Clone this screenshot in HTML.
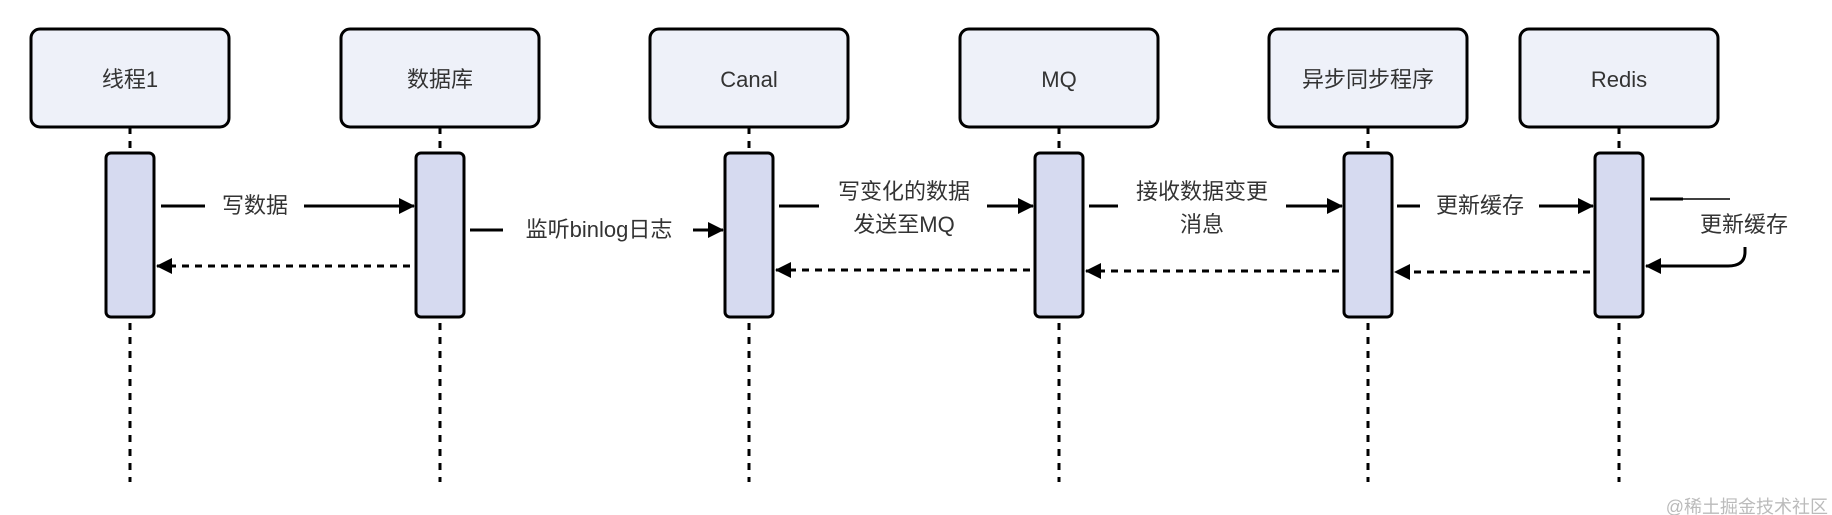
<!DOCTYPE html>
<html><head><meta charset="utf-8"><style>
html,body{margin:0;padding:0;background:#fff;}
svg{display:block;}
text{font-family:"Liberation Sans","Noto Sans CJK SC",sans-serif;font-size:22px;fill:#333;}
</style></head><body>
<svg width="1832" height="515" viewBox="0 0 1832 515" xmlns="http://www.w3.org/2000/svg">
<defs>
<marker id="a" markerWidth="16" markerHeight="16" refX="15" refY="8" orient="auto" markerUnits="userSpaceOnUse">
<path d="M0,0 L16,8 L0,16 Z" fill="#000"/></marker>
</defs>
<g stroke="#000" stroke-width="3" stroke-dasharray="7,7" fill="none">
<line x1="130" y1="127" x2="130" y2="482"/>
<line x1="440" y1="127" x2="440" y2="482"/>
<line x1="749" y1="127" x2="749" y2="482"/>
<line x1="1059" y1="127" x2="1059" y2="482"/>
<line x1="1368" y1="127" x2="1368" y2="482"/>
<line x1="1619" y1="127" x2="1619" y2="482"/>
</g>
<g stroke="#000" stroke-width="3" fill="#eef1f9">
<rect x="31" y="29" width="198" height="98" rx="9"/>
<rect x="341" y="29" width="198" height="98" rx="9"/>
<rect x="650" y="29" width="198" height="98" rx="9"/>
<rect x="960" y="29" width="198" height="98" rx="9"/>
<rect x="1269" y="29" width="198" height="98" rx="9"/>
<rect x="1520" y="29" width="198" height="98" rx="9"/>
</g>
<g text-anchor="middle">
<text x="130" y="87">线程1</text>
<text x="440" y="87">数据库</text>
<text x="749" y="87">Canal</text>
<text x="1059" y="87">MQ</text>
<text x="1368" y="87">异步同步程序</text>
<text x="1619" y="87">Redis</text>
</g>
<g stroke="#000" stroke-width="3" fill="#d6daf0">
<rect x="106" y="153" width="48" height="164" rx="5"/>
<rect x="416" y="153" width="48" height="164" rx="5"/>
<rect x="725" y="153" width="48" height="164" rx="5"/>
<rect x="1035" y="153" width="48" height="164" rx="5"/>
<rect x="1344" y="153" width="48" height="164" rx="5"/>
<rect x="1595" y="153" width="48" height="164" rx="5"/>
</g>
<g stroke="#000" stroke-width="3" fill="none">
<line x1="161" y1="206" x2="205" y2="206"/>
<line x1="304" y1="206" x2="414" y2="206" marker-end="url(#a)"/>
<line x1="470" y1="230" x2="503" y2="230"/>
<line x1="693" y1="230" x2="723" y2="230" marker-end="url(#a)"/>
<line x1="779" y1="206" x2="819" y2="206"/>
<line x1="987" y1="206" x2="1033" y2="206" marker-end="url(#a)"/>
<line x1="1089" y1="206" x2="1118" y2="206"/>
<line x1="1286" y1="206" x2="1342" y2="206" marker-end="url(#a)"/>
<line x1="1397" y1="206" x2="1420" y2="206"/>
<line x1="1539" y1="206" x2="1593" y2="206" marker-end="url(#a)"/>
<line x1="1650" y1="199" x2="1683" y2="199"/>
<line x1="1683" y1="199" x2="1730" y2="199" stroke-width="1.5"/>
<path d="M1745,247 L1745,252 Q1745,266 1728,266 L1646,266" marker-end="url(#a)"/>
</g>
<g stroke="#000" stroke-width="3" fill="none" stroke-dasharray="7,6">
<line x1="410" y1="266" x2="157" y2="266" marker-end="url(#a)"/>
<line x1="1030" y1="270" x2="776" y2="270" marker-end="url(#a)"/>
<line x1="1339" y1="271" x2="1086" y2="271" marker-end="url(#a)"/>
<line x1="1590" y1="272" x2="1395" y2="272" marker-end="url(#a)"/>
</g>
<g text-anchor="middle">
<text x="255" y="213">写数据</text>
<text x="599" y="237">监听binlog日志</text>
<text x="904" y="199">写变化的数据</text>
<text x="904" y="232">发送至MQ</text>
<text x="1202" y="199">接收数据变更</text>
<text x="1202" y="232">消息</text>
<text x="1480" y="213">更新缓存</text>
<text x="1744" y="232">更新缓存</text>
</g>
<text x="1828" y="513" text-anchor="end" style="font-size:18px;fill:#bbbbbb">@稀土掘金技术社区</text>
</svg>
</body></html>
